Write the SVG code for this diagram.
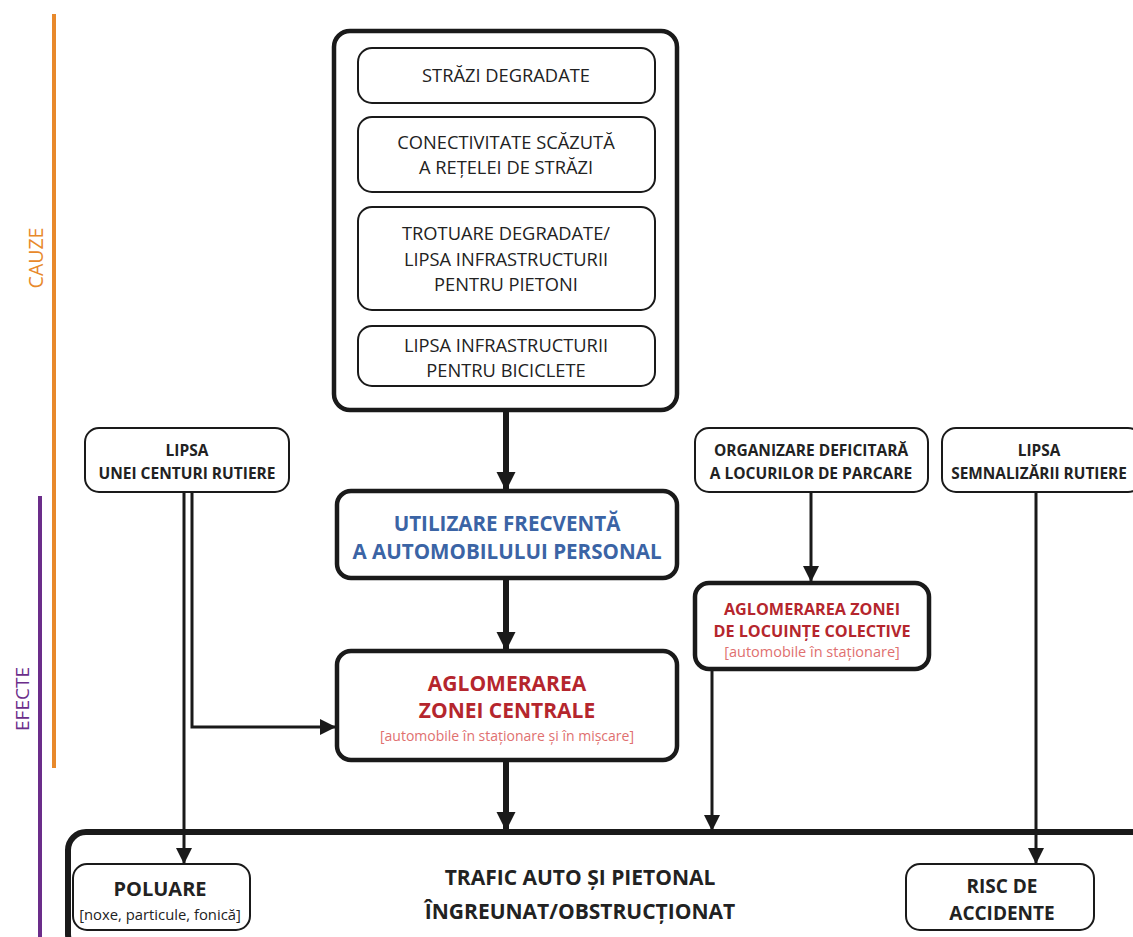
<svg xmlns="http://www.w3.org/2000/svg" width="1133" height="937" viewBox="0 0 1133 937">
<defs>
<style>
text{font-family:"Open Sans","Liberation Sans",sans-serif;text-anchor:middle}
.thin{fill:#fff;stroke:#1a1a1a;stroke-width:2}
.thick{fill:#fff;stroke:#1a1a1a;stroke-width:4.5}
.reg{font-size:18.3px;fill:#222}
.sm{fill:#222}
.b{font-weight:bold;fill:#222}
.blue{font-weight:bold;fill:#3b64a5;font-size:20.6px}
.red{font-weight:bold;fill:#b5262d}
.pink{fill:#e0706f}
.c{fill:none;stroke:#1a1a1a;stroke-width:3}
.ct{fill:none;stroke:#1a1a1a;stroke-width:6}
</style>
<marker id="a" viewBox="0 0 10 10" refX="10" refY="5" markerWidth="5.5" markerHeight="6.5" markerUnits="strokeWidth" orient="auto"><path d="M0,0L10,5L0,10z" fill="#1a1a1a"/></marker>
<marker id="at" viewBox="0 0 10 10" refX="10" refY="5" markerWidth="3.2" markerHeight="5" markerUnits="strokeWidth" orient="auto"><path d="M0,0L10,5L0,10z" fill="#1a1a1a"/></marker>
</defs>
<g id="bars">
<line x1="54" y1="14" x2="54" y2="768" stroke="#e8892b" stroke-width="4"/>
<text transform="translate(43,258) rotate(-90)" font-size="19.5" fill="#e8892b">CAUZE</text>
<line x1="40" y1="496" x2="40" y2="937" stroke="#6b2d8a" stroke-width="4"/>
<text transform="translate(29,699) rotate(-90)" font-size="19" fill="#6b2d8a">EFECTE</text>
</g>
<g id="causes">
<rect class="thick" x="334" y="31" width="343" height="379" rx="16"/>
</g>
<g id="strazi"><rect class="thin" x="358" y="48" width="297" height="55" rx="14"/><text class="reg" x="506" y="82">STRĂZI DEGRADATE</text></g>
<g id="conectivitate"><rect class="thin" x="358" y="117" width="297" height="75" rx="14"/><text class="reg" x="506" y="149">CONECTIVITATE SCĂZUTĂ</text><text class="reg" x="506" y="174">A REȚELEI DE STRĂZI</text></g>
<g id="trotuare"><rect class="thin" x="358" y="207" width="297" height="103" rx="14"/><text class="reg" x="506" y="240">TROTUARE DEGRADATE/</text><text class="reg" x="506" y="266">LIPSA INFRASTRUCTURII</text><text class="reg" x="506" y="291">PENTRU PIETONI</text></g>
<g id="biciclete"><rect class="thin" x="358" y="326" width="297" height="60" rx="14"/><text class="reg" x="506" y="352">LIPSA INFRASTRUCTURII</text><text class="reg" x="506" y="377">PENTRU BICICLETE</text></g>
<g id="utilizare"><rect class="thick" x="337" y="491" width="340" height="87" rx="14"/><text class="blue" x="507" y="531">UTILIZARE FRECVENTĂ</text><text class="blue" x="507" y="559">A AUTOMOBILULUI PERSONAL</text></g>
<g id="centrala"><rect class="thick" x="337" y="651" width="340" height="109" rx="14"/><text class="red" font-size="21" x="507" y="691">AGLOMERAREA</text><text class="red" font-size="21" x="507" y="718">ZONEI CENTRALE</text><text class="pink" font-size="14" x="507" y="741">[automobile în staționare și în mișcare]</text></g>
<g id="centura"><rect class="thin" x="85" y="428" width="204" height="64" rx="14"/><text class="b" font-size="15.5" x="187" y="456">LIPSA</text><text class="b" font-size="15.5" x="187" y="479">UNEI CENTURI RUTIERE</text></g>
<g id="parcare"><rect class="thin" x="695" y="428" width="233" height="64" rx="14"/><text class="b" font-size="15.5" x="811" y="456">ORGANIZARE DEFICITARĂ</text><text class="b" font-size="15.5" x="811" y="479">A LOCURILOR DE PARCARE</text></g>
<g id="semnalizare"><rect class="thin" x="942" y="428" width="200" height="64" rx="14"/><text class="b" font-size="15.4" x="1039" y="456">LIPSA</text><text class="b" font-size="15.4" x="1039" y="479">SEMNALIZĂRII RUTIERE</text></g>
<g id="locuinte"><rect class="thick" x="695" y="583" width="234" height="86" rx="14"/><text class="red" font-size="16.2" x="812" y="615">AGLOMERAREA ZONEI</text><text class="red" font-size="16.2" x="812" y="637">DE LOCUINȚE COLECTIVE</text><text class="pink" font-size="14.5" x="812" y="657">[automobile în staționare]</text></g>
<g id="trafic"><rect fill="#fff" stroke="#1a1a1a" stroke-width="6" x="68" y="832" width="1090" height="120" rx="18"/><text class="b" font-size="21" x="580" y="885">TRAFIC AUTO ȘI PIETONAL</text><text class="b" font-size="21" x="580" y="919">ÎNGREUNAT/OBSTRUCȚIONAT</text></g>
<g id="poluare"><rect class="thin" x="73" y="864" width="177" height="66" rx="14"/><text class="b" font-size="20" x="160" y="896">POLUARE</text><text class="sm" font-size="14.8" x="160" y="920">[noxe, particule, fonică]</text></g>
<g id="risc"><rect class="thin" x="906" y="864" width="188" height="66" rx="14"/><text class="b" font-size="19" x="1002" y="893">RISC DE</text><text class="b" font-size="19" x="1002" y="920">ACCIDENTE</text></g>
<g id="connectors">
<line class="ct" x1="506" y1="412" x2="506" y2="491" marker-end="url(#at)"/>
<line class="ct" x1="506" y1="580" x2="506" y2="651" marker-end="url(#at)"/>
<line class="ct" x1="506" y1="762" x2="506" y2="831" marker-end="url(#at)"/>
<line class="c" x1="184" y1="493" x2="184" y2="864" marker-end="url(#a)"/>
<polyline class="c" points="192,493 192,727 336,727" marker-end="url(#a)"/>
<line class="c" x1="811" y1="493" x2="811" y2="582" marker-end="url(#a)"/>
<line class="c" x1="712" y1="670" x2="712" y2="831" marker-end="url(#a)"/>
<line class="c" x1="1036" y1="493" x2="1036" y2="864" marker-end="url(#a)"/>
</g>
</svg>
